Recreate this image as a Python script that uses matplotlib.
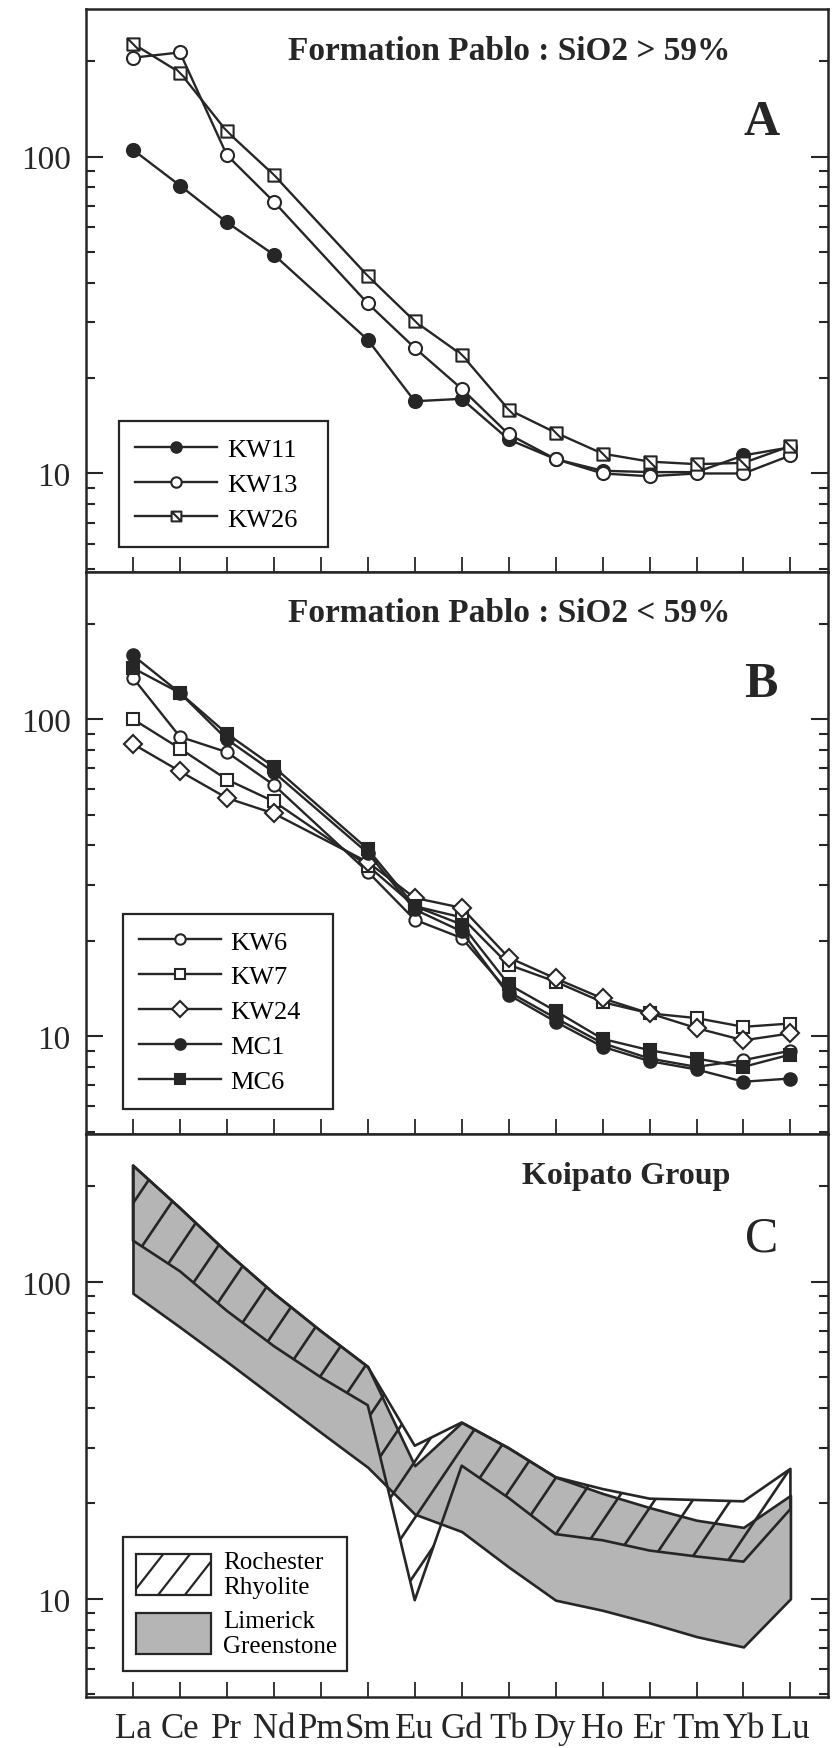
import numpy as np
import matplotlib
matplotlib.use('Agg')
import matplotlib.pyplot as plt
import matplotlib.ticker as mticker
from matplotlib.path import Path
from matplotlib.lines import Line2D
from matplotlib.patches import Patch, Rectangle
from matplotlib.legend_handler import HandlerPatch

# ---------------- data ----------------
elements = ['La', 'Ce', 'Pr', 'Nd', 'Pm', 'Sm', 'Eu', 'Gd', 'Tb', 'Dy', 'Ho', 'Er', 'Tm', 'Yb', 'Lu']
nan = np.nan

# Panel A : Formation Pablo SiO2 > 59%
kw11 = [105, 81, 62, 49, nan, 26.4, 16.9, 17.2, 12.8, 11.1, 10.2, 10.1, 10.1, 11.4, 12.1]
kw13 = [205, 213, 101, 72, nan, 34.4, 24.9, 18.5, 13.3, 11.1, 10.0, 9.8, 10.0, 10.0, 11.4]
kw26 = [227, 184, 120, 87.5, nan, 42, 30.2, 23.7, 15.9, 13.45, 11.55, 10.9, 10.7, 10.8, 12.2]

# Panel B : Formation Pablo SiO2 < 59%
kw6 = [135, 88, 78.7, 62, nan, 33, 23.3, 20.4, 13.8, 11.4, 9.5, 8.5, 8.0, 8.4, 9.0]
kw7 = [100, 80.8, 64.5, 55, nan, 34.5, 25.7, 23.7, 16.8, 14.85, 12.8, 11.8, 11.4, 10.7, 10.96]
kw24 = [83.5, 68.5, 56.4, 50.4, nan, 35.4, 27.3, 25.4, 17.7, 15.2, 13.15, 11.8, 10.6, 9.7, 10.2]
mc1 = [159, 121, 86.4, 68, nan, 37.8, 25.1, 21.4, 13.5, 11.1, 9.26, 8.34, 7.85, 7.18, 7.35]
mc6 = [145, 121, 90, 70.7, nan, 38.9, 25.7, 22.5, 14.56, 12.0, 9.8, 9.03, 8.5, 8.0, 8.75]

# Panel C : Koipato Group envelopes
rochester_upper = [233, 171, 124, 92, 70, 54, 30.4, 36, 29.9, 24.2, 22.2, 20.7, 20.5, 20.3, 25.7]
rochester_lower = [135, 108, 81, 62.7, 50, 40.8, 9.9, 26.3, 20.8, 16.0, 15.3, 14.2, 13.6, 13.1, 19.2]
limerick_upper = [233, 171, 124, 92, 70, 54, 26.3, 36, 29.9, 24.2, 21.5, 19.4, 17.7, 16.8, 21.2]
limerick_lower = [92, 72, 56, 43.3, 33.5, 26, 18.5, 16.3, 12.6, 9.9, 9.2, 8.4, 7.6, 7.05, 10.0]

titles = ['Formation Pablo : SiO2 > 59%', 'Formation Pablo : SiO2 < 59%', 'Koipato Group']
panel_letters = ['A', 'B', 'C']
ytick_vals = [10, 100]
ytick_labels = ['10', '100']

# ---------------- style ----------------
plt.rcParams['font.family'] = ['Liberation Serif', 'DejaVu Serif']
DARK = '#262626'
GRAY = '#b5b5b5'

W, H = 834, 1749
fig = plt.figure(figsize=(W / 100, H / 100), dpi=100)
ax_left = 86 / W
ax_w = (828 - 86) / W
top_px, bot_px = 10, 1698
ph = (bot_px - top_px) / 3

axes = []
for i in range(3):
    t = top_px + i * ph
    ax = fig.add_axes([ax_left, 1 - (t + ph) / H, ax_w, ph / H])
    axes.append(ax)

x_all = np.arange(len(elements))

# custom marker: square with diagonal
sq_diag = Path([(-1, -1), (1, -1), (1, 1), (-1, 1), (-1, -1), (-1, 1), (1, -1)],
               [Path.MOVETO, Path.LINETO, Path.LINETO, Path.LINETO, Path.CLOSEPOLY,
                Path.MOVETO, Path.LINETO])


def plot_series(ax, vals, marker, mfc, ms, label, z=3):
    y = np.array(vals, dtype=float)
    m = ~np.isnan(y)
    ax.plot(x_all[m], y[m], color=DARK, lw=1.7, marker=marker, mfc=mfc, mec=DARK,
            mew=1.5, ms=ms, label=label, zorder=z)


def style_axes(ax, show_xlabels):
    ax.set_yscale('log')
    ax.set_ylim(4.9, 292)
    ax.set_xlim(-1.0, 14.8)
    ax.set_xticks(x_all)
    ax.set_xticklabels(elements)
    ax.yaxis.set_major_locator(mticker.FixedLocator(ytick_vals))
    ax.yaxis.set_major_formatter(mticker.FixedFormatter(ytick_labels))
    ax.yaxis.set_minor_locator(mticker.LogLocator(base=10, subs=np.arange(2, 10)))
    ax.yaxis.set_minor_formatter(mticker.NullFormatter())
    ax.tick_params(axis='y', which='both', direction='in', left=True, right=True,
                   color=DARK)
    ax.tick_params(axis='y', which='major', length=12, width=1.5, labelsize=24, pad=11,
                   labelcolor=DARK)
    ax.tick_params(axis='y', which='minor', length=6.5, width=1.5)
    ax.tick_params(axis='x', which='both', direction='in', top=False, bottom=True,
                   length=11, width=1.3, color=DARK, labelsize=25, pad=11,
                   labelbottom=show_xlabels, labelcolor=DARK)
    ax.xaxis.set_minor_locator(mticker.NullLocator())
    for s in ax.spines.values():
        s.set_linewidth(1.8)
        s.set_color(DARK)


LEG_FS = 19

# ---------------- Panel A ----------------
ax = axes[0]
plot_series(ax, kw11, 'o', DARK, 9.4, 'KW11')
plot_series(ax, kw13, 'o', 'white', 9.4, 'KW13')
plot_series(ax, kw26, sq_diag, 'white', 8.8, 'KW26')
style_axes(ax, False)
legA = ax.legend(loc='lower left', bbox_to_anchor=(0.0445, 0.0444, 0.2817, 0), mode='expand',
                 borderaxespad=0, fontsize=LEG_FS, handlelength=3.1, handletextpad=0.38,
                 labelspacing=0.43, borderpad=0.61, markerscale=0.8, fancybox=False,
                 framealpha=1, edgecolor=DARK)
legA.get_frame().set_linewidth(1.6)

# ---------------- Panel B ----------------
ax = axes[1]
plot_series(ax, kw6, 'o', 'white', 8.8, 'KW6')
plot_series(ax, kw7, 's', 'white', 8.2, 'KW7')
plot_series(ax, kw24, 'D', 'white', 9.5, 'KW24')
plot_series(ax, mc1, 'o', DARK, 9.0, 'MC1')
plot_series(ax, mc6, 's', DARK, 8.4, 'MC6')
style_axes(ax, False)
legB = ax.legend(loc='lower left', bbox_to_anchor=(0.0495, 0.045, 0.283, 0), mode='expand',
                 borderaxespad=0, fontsize=LEG_FS, handlelength=3.1, handletextpad=0.38,
                 labelspacing=0.43, borderpad=0.61, markerscale=0.85, fancybox=False,
                 framealpha=1, edgecolor=DARK)
legB.get_frame().set_linewidth(1.6)

# ---------------- Panel C ----------------
ax = axes[2]
style_axes(ax, True)
lim = ax.fill_between(x_all, limerick_lower, limerick_upper, facecolor=GRAY,
                      edgecolor=DARK, lw=1.9, zorder=1)
roc = ax.fill_between(x_all, rochester_lower, rochester_upper, facecolor='none',
                      edgecolor=DARK, lw=1.9, zorder=3)
roc_path = roc.get_paths()[0]

# diagonal hatch lines, clipped to the Rochester envelope
ax_px_w = ax_w * W
ax_px_h = ph
ang = np.deg2rad(56)
spacing_px = 38
dx_ax = spacing_px / ax_px_w
run = (ax_px_h / np.tan(ang)) / ax_px_w
for c in np.arange(-1.0, 1.2, dx_ax):
    ln = Line2D([c, c + run], [0, 1], transform=ax.transAxes, color=DARK, lw=1.9,
                zorder=2)
    ln.set_clip_path(roc_path, ax.transData)
    ax.add_line(ln)


class HatchHandler(HandlerPatch):
    def create_artists(self, legend, orig_handle, xdescent, ydescent, width, height,
                       fontsize, trans):
        rh = 41 * 0.72  # rectangle height in points
        y0 = -ydescent + (height - rh) / 2
        r = Rectangle((-xdescent, y0), width, rh,
                      facecolor=orig_handle.get_facecolor(), edgecolor=DARK, lw=1.6,
                      transform=trans)
        arts = [r]
        if orig_handle.get_hatch():
            step = width / 2.8
            run_l = rh / np.tan(np.deg2rad(52))
            for k in range(-1, 5):
                x0 = -xdescent + k * step - 4
                ln = Line2D([x0, x0 + run_l], [y0, y0 + rh],
                            color=DARK, lw=1.6, transform=trans)
                ln.set_clip_path(r)
                arts.append(ln)
        return arts


h_roc = Patch(facecolor='white', edgecolor=DARK, hatch='/', label='Rochester\nRhyolite')
h_lim = Patch(facecolor=GRAY, edgecolor=DARK, label='Limerick\nGreenstone')
legC = ax.legend(handles=[h_roc, h_lim], loc='lower left',
                 bbox_to_anchor=(0.0495, 0.0467, 0.302, 0), mode='expand',
                 borderaxespad=0, fontsize=18, handlelength=3.0, handleheight=1.64,
                 handletextpad=0.45, labelspacing=0.45, borderpad=0.55, fancybox=False,
                 framealpha=1, edgecolor=DARK,
                 handler_map={Patch: HatchHandler()})
legC.get_frame().set_linewidth(1.6)
legC.set_zorder(5)

# ---------------- titles & letters ----------------
title_sizes = [24, 24, 23]
for i, ax in enumerate(axes):
    ax.text(0.868, 0.927, titles[i], transform=ax.transAxes, ha='right', va='center',
            fontsize=title_sizes[i], fontweight='bold', color=DARK)
    ax.text(0.91, 0.80 if i < 2 else 0.815, panel_letters[i], transform=ax.transAxes,
            ha='center', va='center', fontsize=36,
            fontweight='bold' if i < 2 else 'normal', color=DARK)

fig.savefig('out.png', dpi=100)
